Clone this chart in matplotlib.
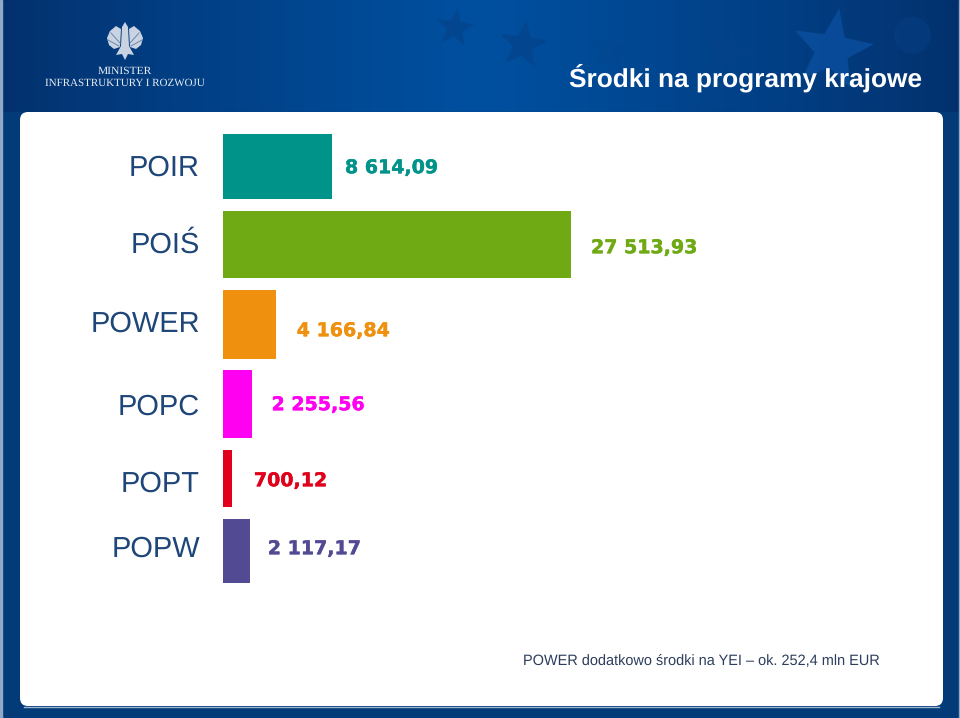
import matplotlib
matplotlib.use('Agg')
import matplotlib.pyplot as plt
import matplotlib.patheffects as pe
import numpy as np
from matplotlib.patches import FancyBboxPatch, Polygon

plt.rcParams['font.family'] = ['Liberation Sans', 'DejaVu Sans']
plt.rcParams['text.hinting'] = 'no_hinting'

# Chart data
programs = ['POIR', 'POIŚ', 'POWER', 'POPC', 'POPT', 'POPW']
amounts = [8614.09, 27513.93, 4166.84, 2255.56, 700.12, 2117.17]
amount_labels = ['8 614,09', '27 513,93', '4 166,84', '2 255,56', '700,12', '2 117,17']
title = 'Środki na programy krajowe'
note = 'POWER dodatkowo środki na YEI – ok. 252,4 mln EUR'

# Styling, everything vertical is in reference pixels
colors = ['#00938a', '#6fa913', '#f0900f', '#ff00f0', '#e0001b', '#524a92']
bar_tops = [134, 211, 290, 370, 450, 519]
bar_bottoms = [199, 278, 359, 438, 507, 583]
name_y = [165, 242, 321, 404, 481, 546]
value_y = [168, 248, 331, 405, 481, 549]
value_gap = [13, 20, 21, 20, 22, 18]

W, H = 960, 718
PX = 0.72  # points per pixel at dpi 100

fig = plt.figure(figsize=(W / 100, H / 100), dpi=100)

# Background layer in pixel coordinates
bg = fig.add_axes([0, 0, 1, 1])
bg.set_xlim(0, W)
bg.set_ylim(H, 0)
bg.axis('off')

grad_x = np.linspace(0, 1, 256)
grad = np.clip(1 - np.abs(grad_x - 0.5) * 2, 0, 1) ** 0.8
dark = np.array([0x03, 0x30, 0x6c])
mid = np.array([0x00, 0x50, 0xa0])
row = (dark + (mid - dark) * grad[:, None]) / 255
bg.imshow(row[None, :, :], extent=[0, W, 112, 0], aspect='auto', zorder=0, interpolation='bilinear')
bg.set_xlim(0, W)
bg.set_ylim(H, 0)
bg.add_patch(plt.Rectangle((0, 112), W, H - 112, color='#033a78', zorder=0.5))
bg.add_patch(plt.Rectangle((0, 0), 1.5, H, color='#8fa9c8', zorder=0.6))
bg.add_patch(plt.Rectangle((958.5, 0), 1.5, H, color='#8fa9c8', zorder=0.6))


def star(cx, cy, r, color, alpha, rot=0.0):
    ang = np.deg2rad(np.arange(10) * 36 - 90 + rot)
    rad = np.where(np.arange(10) % 2 == 0, r, r * 0.42)
    pts = np.column_stack([cx + rad * np.cos(ang), cy + rad * np.sin(ang)])
    bg.add_patch(Polygon(pts, closed=True, color=color, alpha=alpha, lw=0, zorder=1))


star(455, 28, 20, '#0a3a7c', 0.4, 8)
star(523, 45, 25, '#0a3a7c', 0.4, 8)
star(610, 50, 22, '#0a4488', 0.2, 8)
star(728, 52, 24, '#0a4488', 0.25, 12)
star(832, 50, 42, '#0a4f9f', 0.8, 10)
bg.scatter([912], [35], s=700, color='#0a468c', alpha=0.35, lw=0, zorder=1)

# Rough emblem above the ministry name
wing_l = [(121, 29), (116, 26), (110, 31), (107, 38), (109, 45), (114, 49), (120, 47)]
wing_r = [(129, 29), (134, 26), (140, 31), (143, 38), (141, 45), (136, 49), (130, 47)]
body = [(125, 22), (122, 27), (121, 46), (116, 55), (122, 54), (125, 60), (128, 54), (134, 55),
        (129, 46), (128, 27)]
for shape in (wing_l, wing_r, body):
    bg.add_patch(Polygon(shape, closed=True, color='#c9d3e2', lw=0, zorder=2))
bg.plot([111, 120], [33, 43], color='#6b88ae', lw=0.7, zorder=3)
bg.plot([139, 130], [33, 43], color='#6b88ae', lw=0.7, zorder=3)
bg.plot([108, 119], [40, 46], color='#6b88ae', lw=0.7, zorder=3)
bg.plot([142, 131], [40, 46], color='#6b88ae', lw=0.7, zorder=3)
bg.text(125, 71, 'MINISTER', color='#e8edf5', family='Liberation Serif', fontsize=11.5 * PX,
        ha='center', va='center', zorder=3)
bg.text(125, 83.5, 'INFRASTRUKTURY I ROZWOJU', color='#e8edf5', family='Liberation Serif',
        fontsize=11 * PX, ha='center', va='center', zorder=3)

bg.text(922, 78, title, color='white', fontsize=26.3 * PX, fontweight='bold',
        ha='right', va='center', zorder=3)

panel = FancyBboxPatch((26, 118), 911, 582, boxstyle='round,pad=6,rounding_size=8',
                       fc='white', ec='none', zorder=2)
bg.add_patch(panel)
bg.plot([24, 939], [706.5, 706.5], color='#9fb4cf', lw=1, zorder=1.9)

bg.text(880, 660.5, note, color='#2c3e5c', fontsize=14.55 * PX, ha='right', va='center', zorder=3)

# Bars, x scale runs from the left edge of the bars
x_left, x_right = 223, 700
ax = fig.add_axes([x_left / W, 0, (x_right - x_left) / W, 1])
ax.patch.set_alpha(0)
per_px = amounts[1] / (571 - x_left)
ax.set_xlim(0, (x_right - x_left) * per_px)
ax.set_ylim(H, 0)

for i, value in enumerate(amounts):
    ax.barh((bar_tops[i] + bar_bottoms[i]) / 2, value, height=bar_bottoms[i] - bar_tops[i],
            color=colors[i], lw=0)
    txt = ax.annotate(amount_labels[i], (value, value_y[i]), xytext=(value_gap[i] * PX, 0),
                      textcoords='offset points', color=colors[i], fontsize=19 * PX,
                      family='DejaVu Sans', fontweight='bold', ha='left', va='center')
    txt.set_path_effects([pe.withStroke(linewidth=0.3, foreground=colors[i])])

for s in ax.spines.values():
    s.set_visible(False)
ax.xaxis.set_visible(False)
ax.set_yticks(name_y)
ax.set_yticklabels(programs, fontsize=29 * PX, color='#1f4678')
ax.tick_params(axis='y', length=0, pad=23 * PX)

fig.savefig('out.png', dpi=100)
